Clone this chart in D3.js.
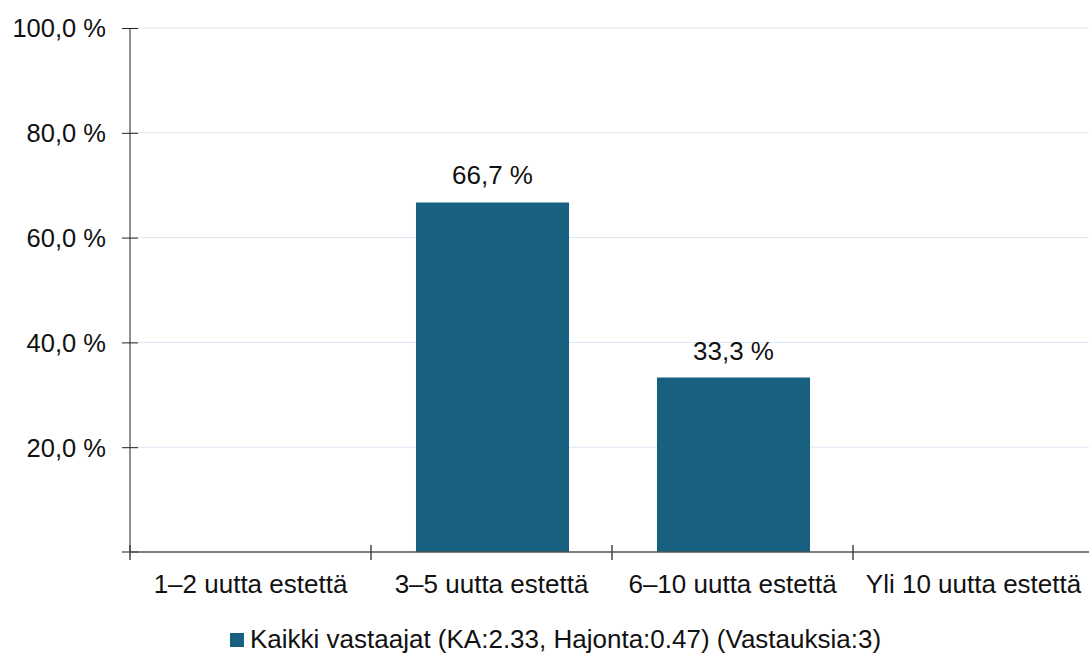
<!DOCTYPE html>
<html><head><meta charset="utf-8">
<script src="https://cdn.jsdelivr.net/npm/d3@7"></script>
<style>html,body{margin:0;padding:0;background:#fff;overflow:hidden}svg{display:block;font-family:"Liberation Sans",Arial,sans-serif}</style>
</head><body>
<svg id="c" width="1089" height="653"></svg>
<script>
const categories = ["1–2 uutta estettä","3–5 uutta estettä","6–10 uutta estettä","Yli 10 uutta estettä"];
const values = [0, 66.7, 33.3, 0];
const yTicks = [20, 40, 60, 80, 100];
const seriesName = "Kaikki vastaajat (KA:2.33, Hajonta:0.47) (Vastauksia:3)";
const barColor = "#17607f";

(function(){
const svg = d3.select("#c");
const mL = 130, mR = 1094, mT = 28, mB = 552;
const FF = "Liberation Sans, Arial, sans-serif";
const x = d3.scaleBand().domain(categories).range([mL, mR]).paddingInner(0).paddingOuter(0);
const y = d3.scaleLinear().domain([0, 100]).range([mB, mT]);
const fmt = v => d3.format(".1f")(v).replace(".", ",") + " %";

// gridlines
svg.append("g").selectAll("line").data(yTicks).join("line")
  .attr("x1", mL).attr("x2", 1089).attr("y1", d => y(d)).attr("y2", d => y(d))
  .attr("stroke", "#dbe5f1").attr("stroke-width", 1);

const data = values.map((v,i)=>({v, c: categories[i]})).filter(d => d.v > 0);
// bars
const bw = x.bandwidth() * 0.635;
svg.append("g").selectAll("rect").data(data).join("rect")
  .attr("x", d => x(d.c) + (x.bandwidth() - bw) / 2 + 1)
  .attr("width", bw)
  .attr("y", d => y(d.v))
  .attr("height", d => y(0) - y(d.v))
  .attr("fill", barColor);

// value labels
svg.append("g").selectAll("text").data(data).join("text")
  .attr("x", d => x(d.c) + x.bandwidth() / 2 + 1)
  .attr("y", d => y(d.v) - 18)
  .attr("text-anchor", "middle").attr("font-size", 26).attr("font-family", FF).attr("fill", "#111")
  .text(d => fmt(d.v));

// y axis
const ya = svg.append("g").attr("transform", `translate(${mL},0)`)
  .call(d3.axisLeft(y).tickValues(yTicks).tickFormat(fmt).tickSize(8).tickPadding(14));
ya.attr("font-size", null).attr("font-family", null);
ya.select(".domain").attr("stroke", "#222").attr("d", `M0,${mT}V${mB}`);
ya.selectAll(".tick line").attr("x1", -8).attr("x2", 8).attr("stroke", "#222");
ya.selectAll(".tick text").attr("font-size", 25.5).attr("fill", "#111").attr("font-family", FF).attr("dy", "0.35em").attr("x", -24);
ya.append("line").attr("x1", -8).attr("x2", 8).attr("y1", mB).attr("y2", mB).attr("stroke", "#222");

// x axis
const xa = svg.append("g").attr("transform", `translate(0,${mB})`)
  .call(d3.axisBottom(x).tickSize(0).tickPadding(22));
xa.attr("font-size", null).attr("font-family", null);
xa.select(".domain").attr("stroke", "#555").attr("stroke-width", 1.5).attr("d", `M${mL},0H${1089}`);
xa.selectAll(".tick text").attr("font-size", 26).attr("fill", "#111").attr("font-family", FF).attr("dy", null).attr("y", 41);
const bounds = categories.map(c => x(c));
xa.append("g").selectAll("line").data(bounds).join("line")
  .attr("x1", d => d).attr("x2", d => d).attr("y1", -7).attr("y2", 8).attr("stroke", "#444").attr("stroke-width", 1.5);

// legend
const lg = svg.append("g");
lg.append("rect").attr("x", 230).attr("y", 633).attr("width", 14).attr("height", 14).attr("fill", barColor);
lg.append("text").attr("x", 250).attr("y", 648).attr("font-size", 26).attr("font-family", FF).attr("fill", "#111").text(seriesName);
})();
</script>
</body></html>
